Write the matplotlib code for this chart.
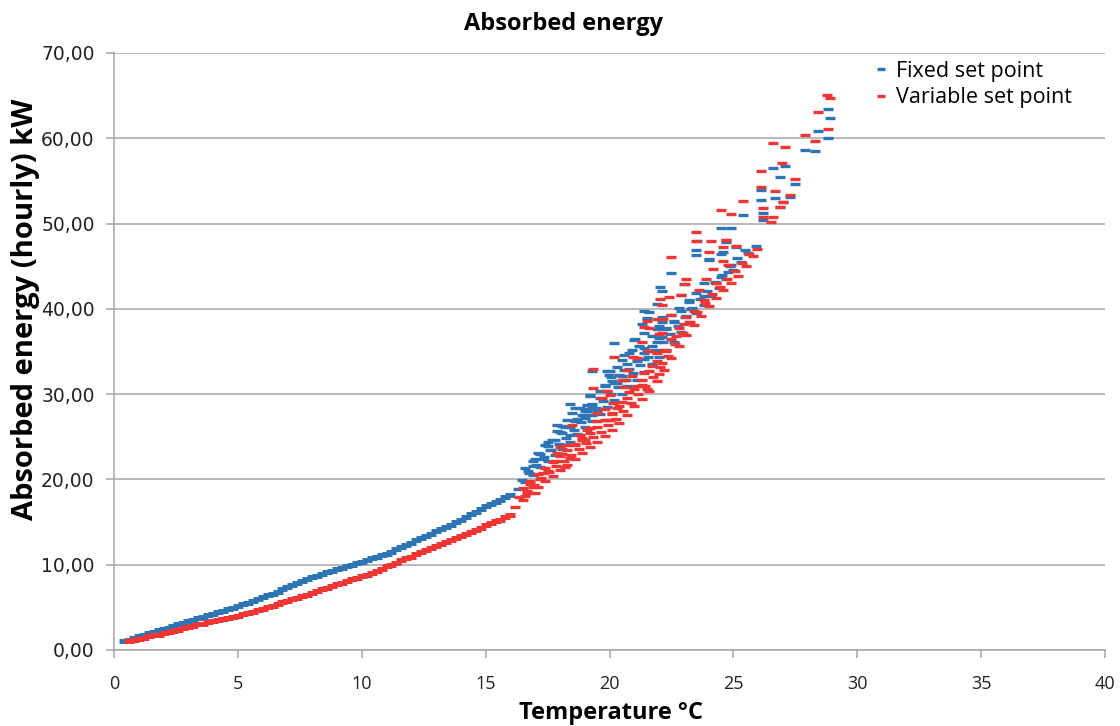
import matplotlib.pyplot as plt
from matplotlib.ticker import FuncFormatter

plt.rcParams['font.family'] = ['Open Sans', 'DejaVu Sans']

# ---- Fixed set point ----
# smooth part (0-16 C)
fixed_curve_x = [0.4, 0.6, 0.8, 1.0, 1.2, 1.4, 1.6, 1.8, 2.0, 2.2, 2.4, 2.6, 2.8, 3.0, 3.2, 3.4,
                 3.6, 3.8, 4.0, 4.2, 4.4, 4.6, 4.8, 5.0, 5.2, 5.4, 5.6, 5.8, 6.0, 6.2, 6.4, 6.6,
                 6.8, 7.0, 7.2, 7.4, 7.6, 7.8, 8.0, 8.2, 8.4, 8.6, 8.8, 9.0, 9.2, 9.4, 9.6, 9.8,
                 10.0, 10.2, 10.4, 10.6, 10.8, 11.0, 11.2, 11.4, 11.6, 11.8, 12.0, 12.2, 12.4,
                 12.6, 12.8, 13.0, 13.2, 13.4, 13.6, 13.8, 14.0, 14.2, 14.4, 14.6, 14.8, 15.0,
                 15.2, 15.4, 15.6, 15.8, 16.0]
fixed_curve_y = [1.0, 1.2, 1.4, 1.6, 1.8, 1.95, 2.1, 2.3, 2.45, 2.6, 2.8, 3.0, 3.2, 3.35, 3.5, 3.7,
                 3.9, 4.1, 4.25, 4.45, 4.6, 4.8, 4.95, 5.15, 5.35, 5.55, 5.75, 6.0, 6.2, 6.4, 6.6, 6.85,
                 7.1, 7.35, 7.6, 7.8, 8.05, 8.3, 8.5, 8.7, 8.9, 9.1, 9.25, 9.45, 9.6, 9.8, 9.95, 10.15,
                 10.35, 10.55, 10.75, 10.9, 11.1, 11.3, 11.5, 11.8, 12.05, 12.3, 12.6, 12.9, 13.15,
                 13.4, 13.65, 13.9, 14.15, 14.45, 14.7, 15.0, 15.3, 15.6, 15.9, 16.2, 16.55, 16.85,
                 17.1, 17.35, 17.6, 17.9, 18.2]

# warm band: lower edge and the rows just above it
fixed_band_x = [16.3, 16.6, 16.9, 17.2, 17.5, 17.8, 18.1, 18.4, 18.7, 19.0, 19.3, 19.6, 19.9,
                20.2, 20.5, 20.8, 21.1, 21.4, 21.7, 22.0, 22.3, 22.6, 22.9, 23.2, 23.5, 23.8,
                24.1, 24.4, 24.7, 25.0, 25.3, 25.6, 25.9,
                16.45, 16.75, 17.05, 17.35, 17.65, 17.95, 18.25, 18.55, 18.85, 19.15, 19.45,
                19.75, 20.05, 20.35, 20.65, 20.95, 21.25, 21.55, 21.85, 22.15, 22.45, 22.75,
                23.05, 23.35, 23.65, 23.95, 24.25, 24.55, 24.85, 25.15, 25.45,
                16.6, 16.9, 17.2, 17.5, 17.8, 18.1, 18.4, 18.7, 19.0, 19.3, 19.6, 19.9, 20.2,
                20.5, 20.8, 21.1, 21.4, 21.7, 22.0, 22.3, 22.6, 22.9, 23.2, 23.5, 23.8]
fixed_band_y = [18.9, 19.7, 20.5, 21.4, 22.2, 22.9, 23.6, 24.4, 25.3, 26.1, 26.9, 27.7, 28.5,
                29.3, 30.0, 30.8, 31.7, 32.6, 33.5, 34.3, 35.2, 36.1, 37.3, 38.4, 39.5, 40.5,
                41.5, 42.5, 43.5, 44.5, 45.5, 46.5, 47.4,
                19.9, 20.8, 21.7, 22.6, 23.4, 24.1, 24.9, 25.8, 26.7, 27.5, 28.4,
                29.2, 30.0, 30.8, 31.6, 32.5, 33.4, 34.3, 35.2, 36.1, 37.0, 38.0,
                39.0, 40.1, 41.1, 42.1, 43.1, 44.0, 45.0, 46.0, 46.9,
                21.3, 22.2, 23.0, 23.9, 24.6, 25.4, 26.2, 27.1, 28.0, 28.8, 29.6, 30.4, 31.3,
                32.1, 33.0, 33.9, 34.8, 35.7, 36.6, 37.6, 38.6, 39.7, 40.8, 41.9, 43.0]

# scattered hours
fixed_scatter_x = [16.7, 16.9, 17.1, 17.3, 17.67, 17.9, 18.0, 18.2, 18.4, 18.6, 18.8, 19.0,
                   19.2, 19.3, 19.3, 19.6, 19.8, 19.9, 19.98, 20.3, 19.8, 20.05, 20.0, 20.6,
                   20.5, 20.6, 21.4, 20.9, 21.5, 20.2, 21.0, 21.9, 21.4, 22.1, 21.3, 22.1,
                   21.4, 22.1, 23.1, 21.9, 22.04, 22.1, 22.9, 23.0, 22.5, 23.5, 23.5, 24.0,
                   24.5, 24.9, 24.7, 25.1, 24.8, 24.0, 24.5, 24.6, 23.52, 19.1, 19.4, 18.5,
                   21.6, 22.5, 21.5, 21.9, 22.3, 21.03, 21.4, 20.7, 20.7, 19.2, 18.4, 18.6,
                   19.1, 19.3, 19.5, 18.07, 17.5, 18.9, 19.0, 18.3, 17.9, 17.4, 17.0, 17.6,
                   20.3, 20.8, 21.2, 21.7, 22.6, 23.3, 23.8, 24.3, 22.8, 23.2, 22.0, 20.1, 20.4,
                   24.5, 24.9, 25.4, 26.2, 26.1, 26.2, 26.7, 27.3, 26.1, 26.9, 27.0, 26.6,
                   27.1, 27.5, 26.9, 27.9, 28.3, 28.8, 28.4, 28.9, 28.82]
fixed_scatter_y = [21.0, 21.6, 23.1, 22.4, 24.6, 25.7, 25.6, 26.2, 25.2, 26.8, 28.4, 27.2,
                   29.9, 28.5, 32.7, 30.4, 31.1, 32.7, 32.2, 31.3, 30.9, 32.0, 32.7, 32.8,
                   34.0, 34.6, 34.1, 35.2, 35.1, 36.0, 36.4, 36.1, 37.2, 36.7, 38.2, 38.5,
                   39.8, 39.1, 39.2, 40.6, 42.6, 42.1, 41.6, 42.9, 44.2, 46.9, 46.3, 45.7,
                   46.4, 45.2, 47.8, 47.3, 44.3, 45.9, 43.7, 46.7, 48.0, 28.0, 28.3, 27.8,
                   39.6, 39.3, 38.9, 37.6, 37.7, 36.5, 35.4, 33.5, 31.0, 29.8, 28.8, 28.4,
                   28.7, 27.6, 28.0, 26.3, 24.4, 27.5, 28.3, 27.0, 26.4, 24.0, 22.4, 23.5,
                   33.2, 34.8, 35.7, 36.8, 38.4, 40.0, 41.5, 43.0, 40.1, 41.0, 38.0, 31.5, 32.3,
                   49.5, 49.5, 51.0, 50.4, 52.8, 51.2, 53.0, 53.1, 53.9, 51.9, 52.5, 56.5,
                   56.7, 54.6, 55.5, 58.6, 58.5, 60.0, 60.9, 62.4, 63.4]

# ---- Variable set point ----
variable_curve_x = [0.6, 0.8, 1.0, 1.2, 1.4, 1.6, 1.8, 2.0, 2.2, 2.4, 2.6, 2.8, 3.0, 3.2, 3.4,
                    3.6, 3.8, 4.0, 4.2, 4.4, 4.6, 4.8, 5.0, 5.2, 5.4, 5.6, 5.8, 6.0, 6.2, 6.4,
                    6.6, 6.8, 7.0, 7.2, 7.4, 7.6, 7.8, 8.0, 8.2, 8.4, 8.6, 8.8, 9.0, 9.2, 9.4,
                    9.6, 9.8, 10.0, 10.2, 10.4, 10.6, 10.8, 11.0, 11.2, 11.4, 11.6, 11.8, 12.0,
                    12.2, 12.4, 12.6, 12.8, 13.0, 13.2, 13.4, 13.6, 13.8, 14.0, 14.2, 14.4,
                    14.6, 14.8, 15.0, 15.2, 15.4, 15.6, 15.8, 16.0]
variable_curve_y = [1.0, 1.15, 1.3, 1.45, 1.6, 1.7, 1.8, 1.95, 2.1, 2.25, 2.4, 2.55, 2.7, 2.85, 3.0,
                    3.1, 3.25, 3.4, 3.5, 3.65, 3.75, 3.9, 4.0, 4.2, 4.35, 4.5, 4.7, 4.85, 5.05, 5.2,
                    5.4, 5.6, 5.8, 5.95, 6.15, 6.3, 6.5, 6.7, 6.9, 7.1, 7.3, 7.5, 7.7, 7.9, 8.1,
                    8.3, 8.45, 8.65, 8.85, 9.05, 9.3, 9.55, 9.8, 10.0, 10.25, 10.5, 10.75, 10.95,
                    11.2, 11.45, 11.7, 11.95, 12.2, 12.45, 12.65, 12.9, 13.15, 13.4, 13.6, 13.85,
                    14.1, 14.35, 14.6, 14.85, 15.1, 15.3, 15.55, 15.8]

variable_band_x = [16.2, 16.5, 16.8, 17.1, 17.4, 17.7, 18.0, 18.3, 18.6, 18.9, 19.2, 19.5, 19.8,
                   20.1, 20.4, 20.7, 21.0, 21.3, 21.6, 21.9, 22.2, 22.5, 22.8, 23.1, 23.4, 23.7,
                   24.0, 24.3, 24.6, 24.9, 25.2, 25.5, 25.8, 25.95,
                   16.35, 16.65, 16.95, 17.25, 17.55, 17.85, 18.15, 18.45, 18.75, 19.05, 19.35,
                   19.65, 19.95, 20.25, 20.55, 20.85, 21.15, 21.45, 21.75, 22.05, 22.35, 22.65,
                   22.95, 23.25, 23.55, 23.85, 24.15, 24.45, 24.75, 25.05, 25.35, 25.65,
                   16.5, 16.8, 17.1, 17.4, 17.7, 18.0, 18.3, 18.6, 18.9, 19.2, 19.5, 19.8, 20.1,
                   20.4, 20.7, 21.0, 21.3, 21.6, 21.9, 22.2, 22.5, 22.8, 23.1]
variable_band_y = [16.8, 17.6, 18.4, 19.1, 19.8, 20.4, 21.1, 21.7, 22.4, 23.1, 23.8, 24.4, 25.1,
                   25.8, 26.6, 27.5, 28.6, 29.4, 30.4, 31.5, 32.8, 34.2, 35.6, 36.9, 38.1, 39.2,
                   40.3, 41.3, 42.2, 43.0, 43.9, 45.0, 46.2, 47.0,
                   17.9, 18.7, 19.4, 20.2, 20.9, 21.6, 22.2, 22.9, 23.6, 24.3, 25.0,
                   25.6, 26.4, 27.1, 28.0, 29.0, 30.0, 31.0, 32.0, 33.2, 34.5, 35.9,
                   37.2, 38.4, 39.6, 40.7, 41.7, 42.6, 43.5, 44.4, 45.4, 46.4,
                   19.0, 19.8, 20.6, 21.3, 22.0, 22.7, 23.4, 24.1, 24.8, 25.5, 26.2, 27.0, 27.8,
                   28.6, 29.6, 30.6, 31.6, 32.7, 33.9, 35.2, 36.5, 37.8, 39.1]

variable_scatter_x = [16.6, 17.0, 16.9, 17.3, 18.2, 18.4, 17.9, 18.3, 18.9, 18.5, 19.1, 19.9,
                      19.5, 20.1, 20.15, 20.5, 19.35, 19.9, 19.35, 20.6, 21.3, 21.5, 20.6, 20.7,
                      21.4, 22.0, 20.2, 20.95, 22.1, 21.3, 22.1, 21.6, 21.5, 22.5, 22.1, 22.04,
                      22.4, 23.6, 23.05, 23.1, 23.9, 22.5, 24.16, 24.6, 24.0, 24.1, 23.5, 23.5,
                      24.7, 25.1, 24.6, 20.0, 20.9, 21.6, 22.0, 19.7,
                      21.1, 21.6, 20.5, 21.4, 21.9, 22.15, 22.9, 24.8, 16.66, 18.0, 17.5, 17.8,
                      18.1, 18.6, 18.8, 19.2, 19.5, 19.8, 20.3, 20.8, 21.1, 21.7, 22.3, 22.7,
                      23.0, 23.4, 23.8, 24.3, 17.2, 16.8, 19.0, 20.0, 21.9,
                      24.5, 24.9, 24.7, 25.4, 26.2, 26.2, 26.6, 26.5, 26.9, 27.0, 27.3, 26.7,
                      26.1, 27.5, 26.1, 26.96, 26.6, 27.1, 27.9, 28.3, 28.4, 28.8, 28.77, 28.9]
variable_scatter_y = [18.1, 18.4, 19.1, 20.7, 21.5, 22.5, 23.1, 24.0, 24.6, 26.4, 25.8, 27.0,
                      27.8, 27.7, 29.0, 29.1, 30.75, 30.4, 33.0, 30.8, 31.1, 30.6, 31.6, 32.8,
                      32.5, 32.4, 34.3, 34.3, 33.6, 36.1, 37.2, 37.7, 38.6, 39.3, 40.5, 41.2,
                      41.4, 42.2, 42.9, 43.5, 43.5, 46.1, 44.7, 45.6, 46.7, 47.9, 48.0, 49.05,
                      48.1, 47.4, 47.2, 29.9, 32.1, 35.0, 37.0, 29.5,
                      34.2, 35.0, 31.6, 37.9, 38.8, 38.8, 41.6, 45.2, 18.4, 23.8, 21.0, 22.2,
                      23.0, 24.0, 25.2, 26.0, 26.8, 28.2, 28.4, 30.2, 31.0, 33.3, 35.0, 36.8,
                      38.2, 39.8, 41.0, 43.0, 20.0, 19.5, 24.6, 27.0, 34.8,
                      51.6, 51.1, 48.1, 52.6, 51.8, 50.8, 50.8, 50.2, 51.9, 52.5, 53.3, 53.8,
                      54.3, 55.2, 56.2, 57.1, 59.4, 59.0, 60.4, 59.7, 63.1, 61.1, 65.07, 64.7]

blue = '#2e75b6'
red = '#f03535'

fig = plt.figure(figsize=(11.2, 7.26), dpi=100)
ax = fig.add_axes([0.1018, 0.1047, 0.8848, 0.8223])

mk = dict(marker='_', linestyle='none', markersize=7, markeredgewidth=2.4)
# low-temperature hours are packed tightly, so the dashes merge into a thick stair line
ax.plot(fixed_curve_x, fixed_curve_y, color=blue, marker='_', linestyle='none',
        markersize=7, markeredgewidth=3.6)
ax.plot(variable_curve_x, variable_curve_y, color=red, marker='_', linestyle='none',
        markersize=7, markeredgewidth=3.6)
ax.plot(fixed_band_x + fixed_scatter_x, fixed_band_y + fixed_scatter_y,
        color=blue, label='Fixed set point', **mk)
ax.plot(variable_band_x + variable_scatter_x, variable_band_y + variable_scatter_y,
        color=red, label='Variable set point', **mk)

ax.set_xlim(0, 40)
ax.set_ylim(0, 70)
ax.set_xticks(range(0, 41, 5))
ax.set_yticks(range(0, 71, 10))
ax.yaxis.set_major_formatter(FuncFormatter(lambda v, p: f'{v:.2f}'.replace('.', ',')))
ax.grid(axis='y', color='#a6a6a6', linewidth=1.1)
ax.set_axisbelow(True)
for s in ['top', 'right']:
    ax.spines[s].set_visible(False)
for s in ['left', 'bottom']:
    ax.spines[s].set_color('#a6a6a6')
    ax.spines[s].set_linewidth(1.1)
ax.tick_params(axis='both', direction='out', length=6, width=1.1, color='#a6a6a6',
               labelcolor='#222222')
ax.tick_params(axis='x', pad=12, labelsize=13)
ax.tick_params(axis='y', pad=8)
for t in ax.get_yticklabels():
    t.set_fontfamily('DejaVu Sans')
    t.set_fontsize(13.5)

fig.text(0.503, 1 - 30 / 726, 'Absorbed energy', ha='center', va='baseline',
         fontsize=17, fontweight='bold')
fig.text(611 / 1120, 1 - 719 / 726, 'Temperature °C', ha='center', va='baseline',
         fontsize=17, fontweight='bold')
fig.text(26 / 1120, 1 - 309 / 726, 'Absorbed energy (hourly) kW', ha='center', va='center',
         rotation=90, fontsize=21, fontweight='bold')

ax.legend(loc='upper left', bbox_to_anchor=(876 / 1120, 1 - 61 / 726),
          bbox_transform=fig.transFigure, frameon=False, fontsize=15.5,
          handlelength=0.5, handletextpad=0.45, labelspacing=0.24,
          borderpad=0, borderaxespad=0, markerscale=0.9)

fig.savefig('out.png', dpi=100)
